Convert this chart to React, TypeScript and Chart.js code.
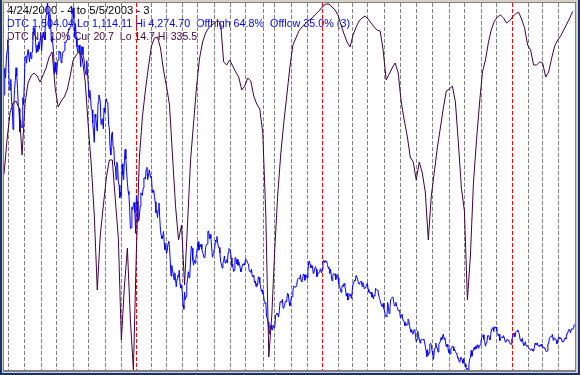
import React, { useEffect, useRef } from "react";
import { Chart, registerables } from "chart.js";

Chart.register(...registerables);

const titleText = "4/24/2000 - 4 to 5/5/2003 - 3";
const dtcText = "DTC 1,504.04 Lo 1,114.11 Hi 4,274.70  Offhigh 64.8%  Offlow 35.0% (3)";
const nhText = "DTC NH 10% Cur 20.7  Lo 14.7 Hi 335.5";

const dtcLo = 1114.11;
const dtcHi = 4274.7;
const nhLo = 14.7;
const nhHi = 335.5;
const lastDay = 759;
const nhStep = 4;

// trading-day index of the first session of each month
const monthStartDays = [5, 27, 49, 69, 92, 112, 134, 155, 175, 196, 215, 237, 257, 279, 300, 321, 344, 359, 382, 403, 423, 444, 463, 483, 505, 527, 547, 569, 591, 611, 634, 654, 675, 696, 715, 736];
const yearStartDays = [175, 423, 675];

const dtc2000 = [
  3482, 3711, 3630, 3774, 3860,
  3958, 3786, 3534, 3524, 3617, 3424, 3385, 3185, 3385, 3529, 3607, 3717, 3645, 3538, 3390, 3364, 3164, 3270, 3205, 3205, 3459, 3400,
  3582, 3813, 3821, 3756, 3825, 3874, 3874, 3767, 3851, 3797, 3845, 3860, 4064, 4013, 4064, 3937, 3845, 3912, 3858, 3940, 3877, 3966,
  3991, 3864, 3960, 4023, 3981, 3956, 4099, 4174, 4246, 4274.7, 4177, 4055, 4184, 4095, 3940, 3987, 3987, 3842, 3663, 3766,
  3685, 3658, 3759, 3787, 3862, 3848, 3853, 3759, 3789, 3849, 3851, 3867, 3940, 3930, 3953, 3958, 4011, 4053, 4042, 4070, 4083, 4103, 4206,
  4234, 4143, 3978, 4098, 3978, 3897, 3850, 3894, 3913, 3835, 3726, 3897, 3897, 3828, 3803, 3741, 3689, 3656, 3778, 3672,
  3569, 3455, 3523, 3472, 3361, 3355, 3240, 3168, 3074, 3316, 3290, 3213, 3171, 3418, 3483, 3468, 3419, 3229, 3272, 3278, 3191, 3370,
  3333, 3429, 3451, 3416, 3415, 3231, 3200, 3028, 2966, 3138, 3165, 3031, 3027, 2875, 2871, 2755, 2904, 2880, 2734, 2706, 2597,
  2645, 2615, 2890, 2796, 2752, 2917, 3015, 2931, 2823, 2728, 2653, 2624, 2511, 2332, 2340, 2517, 2493, 2539, 2557, 2470,
];
const dtc2001 = [
  2291, 2616, 2566, 2407, 2395, 2441, 2524, 2640, 2626, 2618, 2682, 2768, 2770, 2757, 2840, 2859, 2754, 2781, 2838, 2838, 2772,
  2782, 2660, 2643, 2664, 2607, 2562, 2470, 2489, 2427, 2491, 2552, 2425, 2318, 2268, 2244, 2262, 2308, 2207, 2151,
  2183, 2117, 2143, 2204, 2223, 2168, 2052, 1923, 2014, 1972, 1940, 1890, 1951, 1897, 1830, 1897, 1928, 1918, 1973, 1854, 1820, 1840,
  1782, 1673, 1638, 1785, 1720, 1745, 1852, 1898, 1961, 1909, 1923, 2079, 2182, 2163, 2059, 2016, 2059, 2034, 2075, 2116,
  2168, 2220, 2146, 2192, 2173, 2198, 2156, 2128, 2107, 2081, 2085, 2166, 2193, 2198, 2305, 2313, 2243, 2282, 2251, 2175, 2085, 2110,
  2149, 2155, 2233, 2217, 2264, 2215, 2170, 2169, 2122, 2045, 2028, 1992, 2031, 2058, 2096, 2035, 2050, 2064, 2034, 2125, 2161,
  2148, 2140, 2080, 2004, 2027, 1962, 1972, 2075, 2084, 2029, 2067, 2016, 2046, 2029, 1988, 1960, 1985, 2022, 2029, 2017, 2027,
  2068, 2066, 2066, 2034, 2027, 1966, 1964, 1956, 1982, 1919, 1918, 1930, 1867, 1881, 1831, 1860, 1842, 1916, 1912, 1864, 1843, 1791, 1805,
  1770, 1759, 1705, 1687, 1695, 1579, 1555, 1527, 1470, 1423, 1499, 1501, 1464, 1460, 1498,
  1480, 1492, 1580, 1597, 1605, 1605, 1570, 1626, 1701, 1703, 1696, 1722, 1646, 1652, 1671, 1708, 1704, 1731, 1775, 1768, 1699, 1667, 1690,
  1747, 1745, 1793, 1835, 1837, 1827, 1828, 1840, 1892, 1903, 1900, 1898, 1934, 1880, 1875, 1903, 1941, 1935, 1887, 1933, 1930,
  1904, 1963, 2046, 2054, 2021, 1993, 2001, 2012, 1946, 1953, 1987, 2004, 1982, 1918, 1945, 1944, 1960, 1977, 1987, 1950,
];
const dtc2002 = [
  1979, 2044, 2059, 2037, 2055, 2045, 2047, 2022, 1990, 2000, 1944, 1984, 1930, 1882, 1922, 1943, 1937, 1943, 1893, 1913, 1934,
  1911, 1855, 1838, 1812, 1782, 1818, 1846, 1834, 1859, 1843, 1805, 1750, 1775, 1716, 1724, 1769, 1766, 1751, 1731,
  1802, 1859, 1866, 1890, 1882, 1929, 1929, 1897, 1862, 1854, 1868, 1877, 1880, 1832, 1868, 1851, 1812, 1824, 1826, 1845,
  1862, 1810, 1784, 1789, 1770, 1785, 1742, 1767, 1726, 1756, 1753, 1817, 1810, 1802, 1796, 1760, 1730, 1713, 1713, 1663, 1659, 1688,
  1644, 1614, 1576, 1578, 1573, 1696, 1652, 1600, 1652, 1719, 1730, 1742, 1741, 1701, 1664, 1673, 1697, 1661, 1652, 1624, 1631, 1615,
  1562, 1578, 1595, 1554, 1535, 1530, 1497, 1519, 1497, 1504, 1553, 1542, 1496, 1464, 1440, 1460, 1423, 1429, 1460, 1463,
  1403, 1357, 1380, 1448, 1405, 1381, 1346, 1374, 1373, 1382, 1375, 1381, 1356, 1319, 1282, 1229, 1290, 1240, 1262, 1335, 1344, 1328,
  1280, 1247, 1206, 1280, 1306, 1346, 1306, 1304, 1269, 1334, 1346, 1361, 1394, 1376, 1409, 1422, 1380, 1391, 1347, 1314, 1335, 1315,
  1263, 1292, 1252, 1295, 1304, 1320, 1315, 1279, 1291, 1275, 1259, 1253, 1216, 1221, 1184, 1182, 1222, 1221, 1199, 1172,
  1213, 1187, 1165, 1139, 1119, 1129, 1114.11, 1163, 1210, 1220, 1282, 1233, 1272, 1287, 1309, 1292, 1320, 1298, 1331, 1315, 1300, 1326, 1330,
  1360, 1396, 1401, 1418, 1376, 1359, 1319, 1349, 1361, 1411, 1411, 1393, 1374, 1419, 1467, 1468, 1481, 1444, 1487, 1479,
  1484, 1448, 1430, 1410, 1422, 1367, 1390, 1396, 1399, 1391, 1410, 1392, 1362, 1354, 1363, 1381, 1372, 1367, 1348, 1339, 1335,
];
const dtc2003 = [
  1384, 1387, 1421, 1431, 1401, 1438, 1447, 1446, 1460, 1438, 1423, 1376, 1364, 1359, 1388, 1343, 1325, 1342, 1358, 1322, 1320,
  1323, 1306, 1301, 1301, 1283, 1296, 1295, 1278, 1277, 1310, 1346, 1334, 1331, 1349, 1322, 1329, 1314, 1323, 1337,
  1320, 1305, 1314, 1303, 1305, 1279, 1271, 1279, 1340, 1340, 1392, 1400, 1401, 1402, 1421, 1370, 1391, 1387, 1384, 1369, 1341,
  1361, 1396, 1396, 1383, 1389, 1382, 1356, 1365, 1358, 1385, 1391, 1380, 1425, 1424, 1451, 1466, 1458, 1434, 1462, 1472, 1464,
  1472, 1502, 1504.04,
];

// NH 10% indicator, one reading every 4 sessions
const nhValues = [
  164.2, 134.5, 110.9, 102.1, 100.4, 106.5, 147.6, 102.1, 84.6, 78.5,
  75.9, 78.5, 83.8, 77.6, 71.5, 61.9, 57.5, 89.0, 105.6, 100.4,
  96.9, 90.7, 78.5, 64.5, 60.2, 56.7, 62.8, 83.8, 122.2, 156.3,
  200.0, 265.6, 217.5, 192.1, 167.7, 151.9, 151.9, 186.9, 220.1, 309.3,
  262.9, 228.9, 291.8, 335.5, 230.6, 149.3, 114.3, 90.7, 70.6, 52.3,
  45.3, 44.4, 54.0, 73.3, 87.3, 103.9, 148.4, 192.1, 221.9, 208.8,
  261.2, 207.0, 151.9, 119.6, 87.3, 62.8, 48.8, 40.9, 36.6, 33.9,
  32.2, 29.6, 33.1, 66.3, 68.9, 64.5, 69.8, 75.0, 79.4, 90.7,
  87.3, 80.3, 82.9, 96.0, 103.0, 107.4, 128.3, 200.0, 324.1, 287.4,
  228.9, 180.8, 145.8, 118.7, 95.1, 70.6, 51.4, 45.3, 39.2, 35.7,
  33.1, 30.4, 28.7, 26.1, 23.4, 20.8, 17.3, 15.6, 15.6, 18.2,
  20.8, 25.2, 33.9, 41.8, 48.8, 53.2, 42.7, 35.7, 30.4, 27.8,
  26.1, 28.7, 32.2, 35.7, 38.3, 39.2, 55.8, 82.0, 76.8, 71.5,
  67.1, 75.9, 101.2, 117.0, 131.0, 149.3, 153.7, 169.4, 153.7, 163.3,
  179.9, 221.9, 183.4, 162.4, 141.4, 124.0, 106.5, 91.6, 89.9, 87.3,
  101.2, 137.1, 176.4, 196.5, 274.3, 235.0, 172.0, 135.3, 103.0, 75.0,
  64.5, 48.8, 37.4, 30.4, 26.9, 25.2, 27.8, 32.2, 30.4, 26.9,
  24.3, 22.6, 28.7, 36.6, 51.4, 55.8, 68.9, 68.9, 66.3, 67.1,
  79.4, 75.0, 62.8, 52.3, 47.0, 43.5, 38.3, 33.1, 27.8, 22.0,
];

const dtcValues = [...dtc2000, ...dtc2001, ...dtc2002, ...dtc2003];

const headerPlugin = {
  id: "headerText",
  beforeDraw(chart: any) {
    const ctx = chart.ctx;
    ctx.save();
    ctx.textBaseline = "alphabetic";
    ctx.textAlign = "left";
    ctx.font = '11.3px "Liberation Sans", Arial, sans-serif';
    ctx.fillStyle = "#000000";
    ctx.fillText(titleText, 3, 11);
    ctx.font = '11px "Liberation Sans", Arial, sans-serif';
    ctx.fillStyle = "#0000ff";
    ctx.fillText(dtcText, 3, 24, 343);
    ctx.fillStyle = "#400040";
    ctx.fillText(nhText, 3, 37, 190);
    ctx.restore();
  },
};

const monthGridPlugin = {
  id: "monthGrid",
  beforeDatasetsDraw(chart: any) {
    const { ctx, chartArea } = chart;
    const xs = chart.scales.x;
    ctx.save();
    ctx.lineWidth = 1;
    ctx.setLineDash([4, 2]);
    monthStartDays.forEach((d) => {
      const px = Math.round(xs.getPixelForValue(d)) + 0.5;
      ctx.strokeStyle = yearStartDays.includes(d) ? "#ff0000" : "#808080";
      ctx.beginPath();
      ctx.moveTo(px, chartArea.top);
      ctx.lineTo(px, chartArea.bottom);
      ctx.stroke();
    });
    ctx.restore();
  },
};

export default function App() {
  const ref = useRef<HTMLCanvasElement | null>(null);

  useEffect(() => {
    if (!ref.current) return;
    const chart = new Chart(ref.current, {
      type: "line",
      data: {
        datasets: [
          {
            label: "DTC NH 10%",
            data: nhValues.map((v, i) => ({ x: i * nhStep, y: v })),
            borderColor: "#400040",
            borderWidth: 1,
            pointRadius: 0,
            tension: 0,
            yAxisID: "y2",
            order: 0,
          },
          {
            label: "DTC",
            data: dtcValues.map((v, i) => ({ x: i, y: v })),
            borderColor: "#0000ff",
            borderWidth: 1,
            pointRadius: 0,
            tension: 0,
            yAxisID: "y",
            order: 1,
          },
        ],
      },
      options: {
        animation: false,
        responsive: false,
        devicePixelRatio: 1,
        layout: { padding: 0 },
        plugins: { legend: { display: false }, tooltip: { enabled: false } },
        events: [],
        scales: {
          x: {
            type: "linear",
            min: 0,
            max: lastDay,
            display: true,
            ticks: { display: false },
            grid: { display: false, drawTicks: false },
            border: { display: false },
          },
          y: { type: "linear", min: dtcLo, max: dtcHi, display: false },
          y2: { type: "linear", min: nhLo, max: nhHi, reverse: true, display: false },
        },
      },
      plugins: [headerPlugin, monthGridPlugin],
    });
    return () => chart.destroy();
  }, []);

  return (
    <div style={{ position: "fixed", left: 0, top: 0, width: 580, height: 375, background: "#18336b", overflow: "hidden" }}>
      <div style={{ position: "absolute", left: 2, top: 0, width: 576, height: 373, background: "#d4d0c8" }} />
      <div style={{ position: "absolute", left: 3, top: 2, width: 573, height: 370, background: "#808080" }} />
      <div style={{ position: "absolute", left: 4, top: 3, width: 571, height: 367, background: "#ffffff" }}>
        <canvas ref={ref} width={571} height={367} style={{ display: "block", width: 571, height: 367 }} />
      </div>
    </div>
  );
}
